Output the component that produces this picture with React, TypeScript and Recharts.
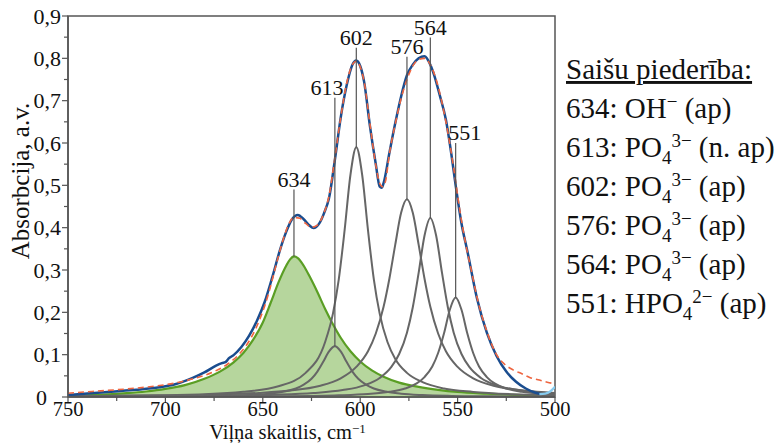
import React from 'react';
import {
  ComposedChart,
  Line,
  Area,
  XAxis,
  YAxis,
  ReferenceLine,
  ReferenceDot,
  ReferenceArea,
} from 'recharts';

type P = [number, number];

// Measured spectrum (wavenumber, absorbance)
const measured: P[] = [
  [750, 0.005], [740, 0.008], [728, 0.0125], [715, 0.017], [703, 0.023], [695, 0.03],
  [686, 0.045], [680, 0.058], [674, 0.074], [671, 0.08], [669, 0.083], [667.5, 0.091],
  [665, 0.099], [661, 0.118], [657, 0.145], [653, 0.18], [649, 0.225], [645, 0.285],
  [641, 0.35], [638, 0.39], [635, 0.42], [632, 0.43], [629, 0.42], [626, 0.405],
  [624, 0.399], [621, 0.41], [618.5, 0.435], [616, 0.47], [613, 0.56], [610, 0.66],
  [607, 0.735], [604, 0.785], [602, 0.795], [600, 0.782], [598, 0.745], [595, 0.64],
  [592, 0.55], [590, 0.497], [589, 0.494], [588, 0.505], [585, 0.577], [582, 0.647],
  [579, 0.71], [576, 0.76], [573, 0.785], [570, 0.8], [567, 0.805], [564, 0.785],
  [562, 0.76], [559, 0.71], [556, 0.655], [553, 0.567], [551, 0.5], [548, 0.41],
  [545, 0.345], [540, 0.232], [535, 0.152], [530, 0.097], [525, 0.06], [520, 0.036],
  [515, 0.02], [510, 0.01], [507.5, 0.007],
];

const measuredTail: P[] = [[508, 0.007], [505, 0.008], [502.5, 0.013], [500, 0.024]];

// Fitted envelope
const fitted: P[] = [
  [750, 0.009], [735, 0.014], [720, 0.019], [705, 0.026], [695, 0.033], [685, 0.044],
  [676, 0.058], [668, 0.078], [662, 0.102], [656, 0.14], [651, 0.19], [647, 0.245],
  [643, 0.315], [640, 0.365], [637, 0.405], [634, 0.424], [631, 0.422], [628, 0.41],
  [625, 0.401], [622, 0.406], [619, 0.43], [616, 0.475], [613, 0.565], [610, 0.66],
  [607, 0.74], [604, 0.785], [602, 0.793], [600, 0.78], [598, 0.745], [595, 0.645],
  [592, 0.548], [590, 0.505], [588.5, 0.497], [587, 0.51], [585, 0.575], [582, 0.645],
  [579, 0.705], [576, 0.75], [573, 0.782], [570, 0.797], [567, 0.8], [564, 0.785],
  [561, 0.75], [558, 0.695], [555, 0.625], [552, 0.54], [549, 0.445], [546, 0.365],
  [543, 0.3], [540, 0.235], [535, 0.155], [530, 0.1], [526, 0.078], [521.5, 0.064],
  [517, 0.055], [513, 0.046], [508, 0.04], [504, 0.035], [500, 0.031],
];

// Component bands
const band634: P[] = [
  [750, 0.003], [735, 0.005], [720, 0.009], [710, 0.013], [700, 0.019], [690, 0.028],
  [680, 0.043], [672, 0.06], [665, 0.082], [660, 0.104], [655, 0.135], [650, 0.176],
  [646, 0.222], [642, 0.27], [638, 0.31], [636, 0.325], [634, 0.332], [632, 0.328],
  [629, 0.31], [626, 0.285], [622, 0.248], [618, 0.208], [614, 0.172], [610, 0.14],
  [605, 0.108], [600, 0.084], [594, 0.063], [588, 0.048], [580, 0.034], [570, 0.024],
  [560, 0.017], [550, 0.012], [535, 0.008], [520, 0.005], [500, 0.003],
];

const band613: P[] = [
  [750, 0.0005], [700, 0.0012], [660, 0.004], [647, 0.0078], [639, 0.0128], [633, 0.02],
  [629, 0.029], [625, 0.043], [622, 0.06], [619, 0.083], [616, 0.108], [613, 0.12],
  [610, 0.108], [607, 0.083], [604, 0.06], [601, 0.043], [597, 0.029], [593, 0.02],
  [587, 0.0128], [579, 0.0078], [568, 0.0046], [553, 0.0026], [533, 0.0015], [500, 0.0008],
];

const band602: P[] = [
  [750, 0.002], [700, 0.004], [660, 0.0124], [642, 0.0255], [628, 0.057], [618, 0.13],
  [614, 0.197], [611, 0.278], [608, 0.394], [605, 0.525], [602, 0.59], [599, 0.525],
  [596, 0.394], [593, 0.278], [590, 0.197], [586, 0.13], [582, 0.09], [576, 0.057],
  [568, 0.035], [557, 0.02], [542, 0.012], [522, 0.0066], [500, 0.004],
];

const band576: P[] = [
  [750, 0.0019], [706, 0.0033], [676, 0.0056], [652, 0.0096], [636, 0.0152], [621, 0.026],
  [610, 0.044], [602, 0.071], [596, 0.108], [592, 0.15], [588, 0.213], [585, 0.28],
  [582, 0.36], [579, 0.435], [576, 0.467], [573, 0.435], [570, 0.36], [567, 0.28],
  [564, 0.213], [560, 0.15], [556, 0.108], [550, 0.071], [542, 0.044], [531, 0.026],
  [516, 0.0152], [500, 0.0096],
];

const band564: P[] = [
  [750, 0.001], [714, 0.0015], [674, 0.0028], [644, 0.0053], [624, 0.0094], [609, 0.0163],
  [598, 0.0275], [590, 0.045], [584, 0.071], [580, 0.1015], [576, 0.152], [573, 0.212],
  [570, 0.293], [567, 0.381], [564, 0.423], [561, 0.381], [558, 0.293], [555, 0.212],
  [552, 0.152], [548, 0.1015], [544, 0.071], [538, 0.045], [530, 0.0275], [519, 0.0163],
  [504, 0.0094], [500, 0.0082],
];

const band551: P[] = [
  [750, 0.0004], [681, 0.0009], [641, 0.0018], [611, 0.0041], [596, 0.0072], [585, 0.0123],
  [577, 0.02], [571, 0.032], [567, 0.047], [563, 0.072], [560, 0.104], [557, 0.15],
  [554, 0.206], [551, 0.235], [548, 0.206], [545, 0.15], [542, 0.104], [539, 0.072],
  [535, 0.047], [531, 0.032], [525, 0.02], [517, 0.0123], [506, 0.0072], [500, 0.0056],
];

// Peak markers
const peakWn = [634, 613, 602, 576, 564, 551];
const peakBase = [0.332, 0.12, 0.59, 0.467, 0.423, 0.235];
const peakTop = [0.49, 0.707, 0.825, 0.804, 0.849, 0.6];

const xTicks = [750, 725, 700, 675, 650, 625, 600, 575, 550, 525, 500];
const yTicks = [0, 0.05, 0.1, 0.15, 0.2, 0.25, 0.3, 0.35, 0.4, 0.45, 0.5, 0.55, 0.6, 0.65, 0.7, 0.75, 0.8, 0.85, 0.9];

// Assignment list
const assignCodes = ['634', '613', '602', '576', '564', '551'];
const assignGroup = ['OH', 'PO', 'PO', 'PO', 'PO', 'HPO'];
const assignSub = ['', '4', '4', '4', '4', '4'];
const assignSup = ['\u2212', '3\u2212', '3\u2212', '3\u2212', '3\u2212', '2\u2212'];
const assignNote = ['(ap)', '(n. ap)', '(ap)', '(ap)', '(ap)', '(ap)'];

const FONT = '"Liberation Serif", "Times New Roman", serif';
const AXIS = '#555';

const toData = (a: P[]) => a.map(([x, y]) => ({ x, y }));

const XTick = (props: any) => {
  const { x, y, payload } = props;
  const v = payload.value;
  const major = v % 50 === 0;
  return (
    <g>
      <line x1={x} y1={y} x2={x} y2={y + (major ? 6 : 4)} stroke={AXIS} strokeWidth={1.2} />
      {major && (
        <text x={x} y={y + 19} textAnchor="middle" fontSize={20.5} fontFamily={FONT} fill="#111">
          {v}
        </text>
      )}
    </g>
  );
};

const YTick = (props: any) => {
  const { x, y, payload } = props;
  const v = payload.value;
  const major = Math.round(v * 100) % 10 === 0;
  const label = v === 0 ? '0' : v.toFixed(1).replace('.', ',');
  return (
    <g>
      <line x1={x} y1={y} x2={x - (major ? 6 : 4)} y2={y} stroke={AXIS} strokeWidth={1.2} />
      {major && (
        <text
          x={v === 0 ? x - 21 : x - 7}
          y={y}
          dy="0.35em"
          textAnchor="end"
          fontSize={22}
          fontFamily={FONT}
          fill="#111"
        >
          {label}
        </text>
      )}
    </g>
  );
};

const XLabel = (props: any) => {
  const vb = props.viewBox || { x: 68, y: 397, width: 487 };
  const cx = vb.x + vb.width / 2 - 24;
  return (
    <text x={cx} y={vb.y + 41.5} textAnchor="middle" fontSize={20.5} fontFamily={FONT} fill="#111">
      Viļņa skaitlis, cm
      <tspan dy={-6} fontSize={13}>{'\u22121'}</tspan>
    </text>
  );
};

const YLabel = () => {
  const cx = 20;
  const cy = 181;
  return (
    <text
      x={cx}
      y={cy}
      transform={`rotate(-90 ${cx} ${cy})`}
      textAnchor="middle"
      dy="0.35em"
      fontSize={25}
      fontFamily={FONT}
      fill="#111"
    >
      Absorbcija, a.v.
    </text>
  );
};

const labelShift = [0, -8, 0, 0, 0, 9];

export default function App() {
  return (
    <div style={{ position: 'absolute', left: 0, top: 0, width: 782, height: 443, background: '#fff' }}>
      <ComposedChart width={782} height={443} margin={{ top: 16, right: 227, bottom: 0, left: 0 }}>
        <XAxis
          type="number"
          dataKey="x"
          domain={[500, 750]}
          reversed
          allowDataOverflow
          ticks={xTicks}
          interval={0}
          tickSize={0}
          tickMargin={0}
          height={46}
          tick={<XTick />}
          tickLine={false}
          axisLine={{ stroke: AXIS, strokeWidth: 1.5 }}
          label={<XLabel />}
        />
        <YAxis
          type="number"
          domain={[0, 0.9]}
          allowDataOverflow
          ticks={yTicks}
          interval={0}
          tickSize={0}
          tickMargin={0}
          width={68}
          tick={<YTick />}
          tickLine={false}
          axisLine={{ stroke: AXIS, strokeWidth: 1.5 }}
          label={<YLabel />}
        />
        <ReferenceArea x1={500} x2={750} y1={0} y2={0.9} fill="none" fillOpacity={0} stroke={AXIS} strokeWidth={1.5} />
        {[band613, band602, band576, band564, band551].map((b, i) => (
          <Line
            key={'b' + i}
            data={toData(b)}
            dataKey="y"
            type="monotoneX"
            stroke="#666"
            strokeWidth={2}
            dot={false}
            isAnimationActive={false}
          />
        ))}
        <Area
          data={toData(band634)}
          dataKey="y"
          type="monotoneX"
          stroke="#5a9e24"
          strokeWidth={2.2}
          fill="#6dae3c"
          fillOpacity={0.5}
          dot={false}
          isAnimationActive={false}
        />
        <Line
          data={toData(measured)}
          dataKey="y"
          type="monotoneX"
          stroke="#1a4d8f"
          strokeWidth={2.5}
          dot={false}
          isAnimationActive={false}
        />
        <Line
          data={toData(measuredTail)}
          dataKey="y"
          type="monotoneX"
          stroke="#86cbef"
          strokeWidth={2.2}
          dot={false}
          isAnimationActive={false}
        />
        <Line
          data={toData(fitted)}
          dataKey="y"
          type="monotoneX"
          stroke="#ee6540"
          strokeWidth={1.6}
          strokeDasharray="6 4"
          dot={false}
          isAnimationActive={false}
        />
        {peakWn.map((w, i) => (
          <ReferenceLine
            key={'l' + w}
            segment={[{ x: w, y: peakBase[i] }, { x: w, y: peakTop[i] }]}
            stroke="#555"
            strokeWidth={1.2}
          />
        ))}
        {peakWn.map((w, i) => (
          <ReferenceDot
            key={'d' + w}
            x={w}
            y={peakTop[i]}
            r={0}
            shape={(p: any) => (
              <text
                x={p.cx + labelShift[i]}
                y={p.cy - 3}
                textAnchor="middle"
                fontSize={22}
                fontFamily={FONT}
                fill="#111"
              >
                {w}
              </text>
            )}
          />
        ))}
      </ComposedChart>
      <svg
        width={782}
        height={443}
        style={{ position: 'absolute', left: 0, top: 0, pointerEvents: 'none' }}
      >
        <text x={566} y={79} fontSize={29} fontFamily={FONT} fill="#111" style={{ textDecoration: 'underline' }}>
          Saišu piederība:
        </text>
        {assignCodes.map((c, i) => (
          <text
            key={c}
            x={566}
            y={118 + i * 39}
            fontSize={29}
            fontFamily={FONT}
            fill="#111"
            style={{ whiteSpace: 'pre' }}
          >
            {c + ': ' + assignGroup[i]}
            {assignSub[i] && (
              <tspan dy={7} fontSize={19}>
                {assignSub[i]}
              </tspan>
            )}
            <tspan dy={assignSub[i] ? -17 : -10} fontSize={19}>
              {assignSup[i]}
            </tspan>
            <tspan dy={10} fontSize={29}>
              {' ' + assignNote[i]}
            </tspan>
          </text>
        ))}
      </svg>
    </div>
  );
}
